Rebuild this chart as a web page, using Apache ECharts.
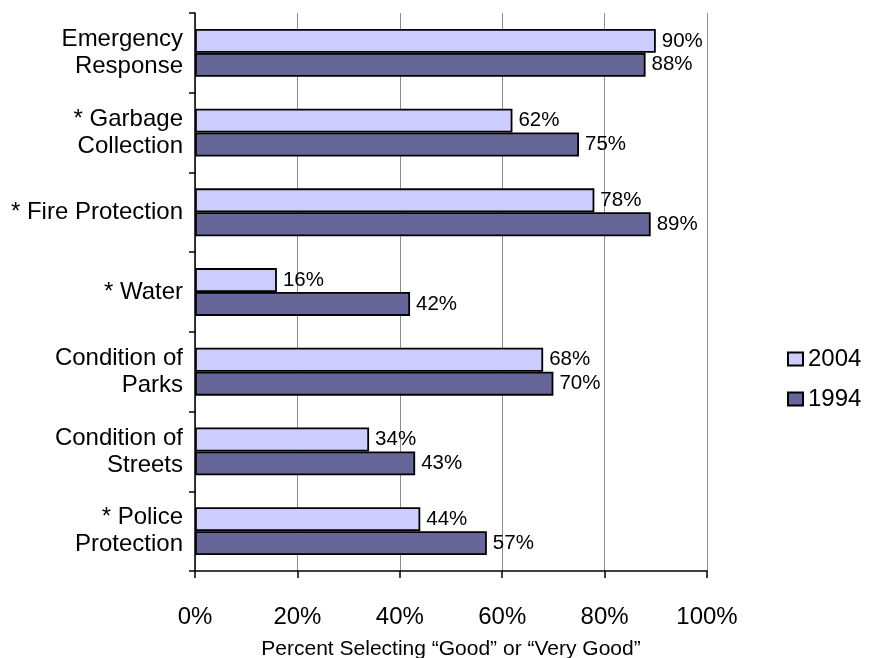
<!DOCTYPE html>
<html>
<head>
<meta charset="utf-8">
<script src="https://cdn.jsdelivr.net/npm/echarts@6/dist/echarts.min.js"></script>
<style>
  html, body { margin: 0; padding: 0; background: #ffffff; }
  #chart { width: 881px; height: 658px; }
</style>
</head>
<body>
<div id="chart"></div>
<script>
// Service ratings, top to bottom
const categories = [
  'Emergency\nResponse',
  '* Garbage\nCollection',
  '* Fire Protection',
  '* Water',
  'Condition of\nParks',
  'Condition of\nStreets',
  '* Police\nProtection'
];
const values2004 = [90, 62, 78, 16, 68, 34, 44];
const values1994 = [88, 75, 89, 42, 70, 43, 57];
const xTicks = [0, 20, 40, 60, 80, 100];

const FONT = '"Liberation Sans", Arial, sans-serif';

const chart = echarts.init(document.getElementById('chart'), null, { renderer: 'canvas' });

const barLabel = {
  show: true,
  position: 'right',
  distance: 6,
  formatter: '{c}%',
  color: '#000',
  fontFamily: FONT,
  fontSize: 20.5
};

chart.setOption({
  animation: false,
  backgroundColor: '#ffffff',
  textStyle: { fontFamily: FONT },
  grid: { left: 195, right: 174, top: 13, bottom: 87, containLabel: false, outerBoundsMode: 'none' },
  legend: {
    orient: 'vertical',
    left: 787,
    top: 347,
    padding: 0,
    itemWidth: 15,
    itemHeight: 13,
    itemGap: 16,
    icon: 'rect',
    textStyle: { fontFamily: FONT, fontSize: 24, color: '#000' },
    data: ['2004', '1994']
  },
  xAxis: {
    type: 'value',
    min: xTicks[0],
    max: xTicks[xTicks.length - 1],
    interval: 20,
    name: 'Percent Selecting \u201cGood\u201d or \u201cVery Good\u201d',
    nameLocation: 'middle',
    nameGap: 68,
    nameTextStyle: { fontFamily: FONT, fontSize: 21, color: '#000' },
    axisLine: { show: true, lineStyle: { color: '#000', width: 1.5 } },
    axisTick: { show: true, length: 7, lineStyle: { color: '#000', width: 1.5 } },
    axisLabel: { formatter: '{value}%', fontFamily: FONT, fontSize: 24, color: '#000', margin: 34 },
    splitLine: { show: true, lineStyle: { color: '#8c8c8c', width: 1 } }
  },
  yAxis: {
    type: 'category',
    inverse: true,
    data: categories,
    axisLine: { show: true, lineStyle: { color: '#000', width: 1.5 } },
    axisTick: { show: true, length: 6, lineStyle: { color: '#000', width: 1.5 } },
    axisLabel: { fontFamily: FONT, fontSize: 24, lineHeight: 27, color: '#000', margin: 12, align: 'right' },
    splitLine: { show: false }
  },
  series: [
    {
      name: '2004',
      type: 'bar',
      data: values2004,
      barGap: '0%',
      barCategoryGap: '40%',
      itemStyle: { color: '#ccccff', borderColor: '#000', borderWidth: 1.8 },
      label: barLabel
    },
    {
      name: '1994',
      type: 'bar',
      data: values1994,
      barGap: '0%',
      barCategoryGap: '40%',
      itemStyle: { color: '#666699', borderColor: '#000', borderWidth: 1.8 },
      label: barLabel
    }
  ]
});
</script>
</body>
</html>
